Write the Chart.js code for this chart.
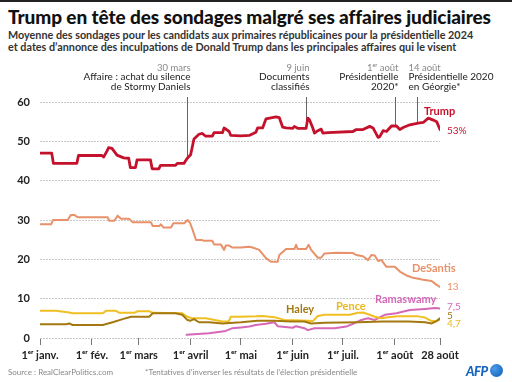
<!DOCTYPE html>
<html>
<head>
<meta charset="utf-8">
<script src="https://cdn.jsdelivr.net/npm/chart.js@4/dist/chart.umd.min.js"></script>
<style>
  body { margin: 0; width: 512px; height: 382px; overflow: hidden; background: #fff; font-family: Lato, sans-serif; position: relative; }
  .bar { position: absolute; left: 0; top: 0; width: 512px; height: 2px; background: #222; }
  h1 { position: absolute; left: 8px; top: 5px; margin: 0; font-size: 19px; font-weight: 900; color: #111; white-space: nowrap; letter-spacing: -0.1px; }
  .sub { position: absolute; left: 8px; top: 29px; font-size: 10.8px; line-height: 11.5px; font-weight: bold; color: #333; white-space: nowrap; }
  canvas { position: absolute; left: 0; top: 0; }
  .foot { position: absolute; top: 367px; font-size: 8px; color: #888; white-space: nowrap; }
  .afp { position: absolute; left: 466px; top: 363px; font-size: 13px; font-weight: 900; font-style: italic; color: #1565c0; letter-spacing: -0.5px; }
  .dot { position: absolute; left: 490px; top: 364px; width: 13px; height: 13px; border-radius: 50%; background: radial-gradient(circle at 35% 35%, #4a9be8, #0d5cb6); }
</style>
</head>
<body>
<div class="bar"></div>
<h1>Trump en tête des sondages malgré ses affaires judiciaires</h1>
<div class="sub">Moyenne des sondages pour les candidats aux primaires républicaines pour la présidentielle 2024<br>et dates d’annonce des inculpations de Donald Trump dans les principales affaires qui le visent</div>
<canvas id="chart" width="512" height="382"></canvas>
<div class="foot" style="left:8px">Source : RealClearPolitics.com</div>
<div class="foot" style="left:145px">*Tentatives d’inverser les résultats de l’élection présidentielle</div>
<div class="afp">AFP</div>
<div class="dot"></div>
<script>
// days since 1 January 2023, poll average (%)
const trump = [[0,47],[7,47],[8,44.4],[22,44.4],[23,46.4],[37,46.4],[38,46],[40,47.5],[41,48.4],[43,48.2],[46,46.5],[50,45.8],[53,45.7],[54,43.3],[57,43.3],[58,45.3],[66,45.3],[67,43],[71,43],[72,43.9],[81,43.9],[82,44.4],[86,44.4],[88,45.7],[90,46.6],[92,50.6],[95,51.8],[97,52],[99,51.3],[103,51.3],[104,52.2],[109,52.2],[110,53.4],[113,52.5],[114,51.5],[120,51.4],[125,51.5],[129,52.3],[130,53.4],[133,53.4],[135,55.7],[141,56.2],[143,56],[145,53.6],[147,53.4],[151,53.3],[152,53.8],[154,53.3],[159,53.3],[160,55.9],[161,55.5],[163,53.4],[164,52.1],[166,52.7],[168,53.1],[169,52.1],[172,52.2],[187,52.5],[189,53],[193,53],[197,53.8],[199,53.4],[202,51],[203,51.2],[205,52.7],[207,52.5],[210,53.9],[213,53.9],[215,53],[217,53.5],[221,54.2],[226,54.6],[229,54.8],[232,55.9],[235,55.4],[237,55],[239,53]];
const desantis = [[0,28.9],[6.6,28.9],[7.8,30],[16.5,30],[18.5,31.3],[20.5,31.3],[22.5,30.7],[40.4,30.7],[41.4,29.8],[44.4,29.8],[46.4,31.1],[48.4,30.3],[53.4,30.3],[55.4,29.4],[66.3,29.4],[67.3,28.5],[71.3,28.5],[72.3,28.9],[73.7,28.1],[78.3,28.1],[79.7,29.2],[86.2,29.2],[88.2,30],[89.6,29.3],[91.2,27.5],[93.2,24.9],[97,24.9],[98,24.7],[103,24.7],[104,23.8],[108,23.8],[110,22.4],[111,23.5],[113,23.5],[115,23],[120,23],[125,23.2],[127,23],[131,22.4],[135,20.3],[138,19.4],[142,19.4],[143,21.1],[147,22.6],[152,22.6],[153,23.7],[154,22.6],[159,22.6],[160.5,23.7],[162,22.4],[166,20.4],[168,20.4],[170,21.5],[177,21.7],[187,21.6],[189,21.1],[193,20.8],[196,19.8],[198,21.1],[200,21],[202,19.6],[204,19.8],[207,18.1],[212,18.1],[215,16.9],[219,15.9],[223,15.3],[229,14.8],[234,14.5],[237,13.5],[239,13]];
const pence = [[0,6.9],[9.5,6.9],[17.5,6.5],[19.5,6.3],[37.5,6.3],[39.4,6.9],[45.4,6.9],[47.4,6.4],[56.3,6.4],[58.3,6.8],[65.3,6.8],[67.3,6.4],[85,6.3],[88,5.4],[91,5],[99,5],[109,4.2],[112.7,4.2],[114,5.4],[120,5.4],[129,5.5],[133,5.6],[140,5.3],[146,4.6],[160,4.4],[163,4.3],[166,5.6],[170,5.9],[185,5.9],[190,6.4],[193,6.5],[197,5.9],[200,5.4],[204,5],[208,5.3],[214,5.5],[226,5.5],[230,5.2],[234,4.3],[237,4.4],[239,4.7]];
const haley = [[0,3.5],[15.5,3.5],[17.5,3.7],[19.5,3.3],[37.5,3.3],[43.4,4],[49.4,4.8],[54.4,5.4],[65.3,5.4],[67.3,6.3],[81,6.3],[85,5.9],[88,4.6],[90,4.4],[92,4.8],[95,4],[101,4],[109,3.7],[120,4],[130,4.4],[140,4.4],[150,4.2],[158,4.2],[162,3.7],[170,3.9],[190,4],[205,4.2],[220,4.2],[230,4],[234,3.7],[237,4.3],[239,5]];
const ramaswamy = [[87.6,0.8],[101,1.2],[111,1.8],[115,2.5],[120,2.7],[125,2.9],[129,3.3],[135,3.6],[140,4],[142,3],[151,2.6],[153,3],[158,2.5],[160,2],[164,2.5],[176,2.5],[183,2.9],[188,3.8],[192,4.6],[196,5],[200,4.6],[206,5.9],[213,6.3],[221,7.1],[230,7.4],[236,7.6],[239,7.5]];

const xTickDays = [0, 31, 59, 90, 120, 151, 181, 212, 239];
const xTickLabels = ['1ᵉʳ janv.', '1ᵉʳ fév.', '1ᵉʳ mars', '1ᵉʳ avril', '1ᵉʳ mai', '1ᵉʳ juin', '1ᵉʳ juil.', '1ᵉʳ août', '28 août'];
const yTicks = [0, 10, 20, 30, 40, 50, 60];

const eventDays = [88, 159, 212, 225];
const eventDates = ['30 mars', '9 juin', '1ᵉʳ août', '14 août'];
const eventTitles = [['Affaire : achat du silence', 'de Stormy Daniels'], ['Documents', 'classifiés'], ['Présidentielle', '2020*'], ['Présidentielle 2020', 'en Géorgie*']];

const endLabels = ['53%', '13', '7,5', '5', '4,7'];

const colors = { trump: '#c4122d', desantis: '#e8916a', pence: '#f0c023', haley: '#a47810', ramaswamy: '#d668b8' };

function valueAt(series, d) {
  for (let i = 1; i < series.length; i++) {
    if (series[i][0] >= d) {
      const [x0, y0] = series[i - 1], [x1, y1] = series[i];
      return y0 + (y1 - y0) * (d - x0) / (x1 - x0);
    }
  }
  return series[series.length - 1][1];
}

const toPoints = s => s.map(([x, y]) => ({ x, y }));

const annotations = {
  id: 'annotations',
  beforeDatasetsDraw(chart) {
    const { ctx, scales: { x, y } } = chart;
    ctx.save();
    eventDays.forEach((d, i) => {
      const px = Math.round(x.getPixelForValue(d)) + 0.5;
      ctx.strokeStyle = '#666';
      ctx.lineWidth = 1;
      ctx.beginPath();
      ctx.moveTo(px, 97);
      ctx.lineTo(px, y.getPixelForValue(valueAt(trump, d)));
      ctx.stroke();

      const left = i === eventDays.length - 1;
      ctx.textAlign = left ? 'left' : 'right';
      ctx.textBaseline = 'middle';
      const tx = left ? px - 9 : px + 3;
      ctx.font = '9.5px Lato';
      ctx.fillStyle = '#888';
      ctx.fillText(eventDates[i], tx, 68);
      ctx.font = '10px Lato';
      ctx.fillStyle = '#222';
      eventTitles[i].forEach((t, j) => ctx.fillText(t, tx, 77 + j * 9.5));
    });
    ctx.restore();
  },
  afterDatasetsDraw(chart) {
    const { ctx } = chart;
    ctx.save();
    ctx.textBaseline = 'middle';
    ctx.textAlign = 'left';
    ctx.font = 'bold 11px Lato';
    [['Trump', colors.trump, 424, 111], ['DeSantis', colors.desantis, 412, 268],
     ['Ramaswamy', colors.ramaswamy, 375, 299], ['Pence', '#e9b81c', 336, 306],
     ['Haley', colors.haley, 286, 309]].forEach(([t, c, lx, ly]) => {
      ctx.fillStyle = c;
      ctx.fillText(t, lx, ly);
    });
    ctx.font = '10px Lato';
    [[colors.trump, 130.5], [colors.desantis, 287], [colors.ramaswamy, 306.5], [colors.haley, 315.5], ['#e9b81c', 323.5]].forEach(([c, ly], i) => {
      ctx.fillStyle = c;
      ctx.fillText(endLabels[i], 447, ly);
    });
    ctx.restore();
  }
};

const line = (data, color, width) => ({
  data: toPoints(data),
  borderColor: color,
  borderWidth: width,
  pointRadius: 0,
  tension: 0,
  borderJoinStyle: 'round',
  borderCapStyle: 'round'
});

new Chart(document.getElementById('chart').getContext('2d'), {
  type: 'line',
  data: {
    datasets: [
      line(haley, colors.haley, 2),
      line(pence, colors.pence, 2),
      line(ramaswamy, colors.ramaswamy, 2),
      line(desantis, colors.desantis, 2),
      line(trump, colors.trump, 2.8)
    ]
  },
  options: {
    responsive: false,
    animation: false,
    events: [],
    layout: { padding: { top: 102, right: 72, left: 0, bottom: 0 } },
    plugins: { legend: { display: false }, tooltip: { enabled: false } },
    scales: {
      x: {
        type: 'linear',
        min: 0,
        max: 239,
        afterFit: s => { s.height = 44; },
        afterBuildTicks: s => { s.ticks = xTickDays.map(v => ({ value: v })); },
        grid: { drawOnChartArea: false, drawTicks: true, tickLength: 7, color: '#777' },
        border: { display: false },
        ticks: {
          autoSkip: false,
          maxRotation: 0,
          padding: 4,
          color: '#222',
          font: { family: 'Lato', size: 11, weight: 'bold' },
          callback: (v, i) => xTickLabels[i]
        }
      },
      y: {
        min: 0,
        max: 60,
        afterFit: s => { s.width = 40; },
        afterBuildTicks: s => { s.ticks = yTicks.map(v => ({ value: v })); },
        grid: { drawTicks: false, color: '#c8c8c8', lineWidth: 1 },
        border: { display: false, dash: [2, 1] },
        ticks: {
          padding: 10,
          color: '#222',
          font: { family: 'Lato', size: 11, weight: 'bold' }
        }
      }
    }
  },
  plugins: [annotations]
});
</script>
</body>
</html>
